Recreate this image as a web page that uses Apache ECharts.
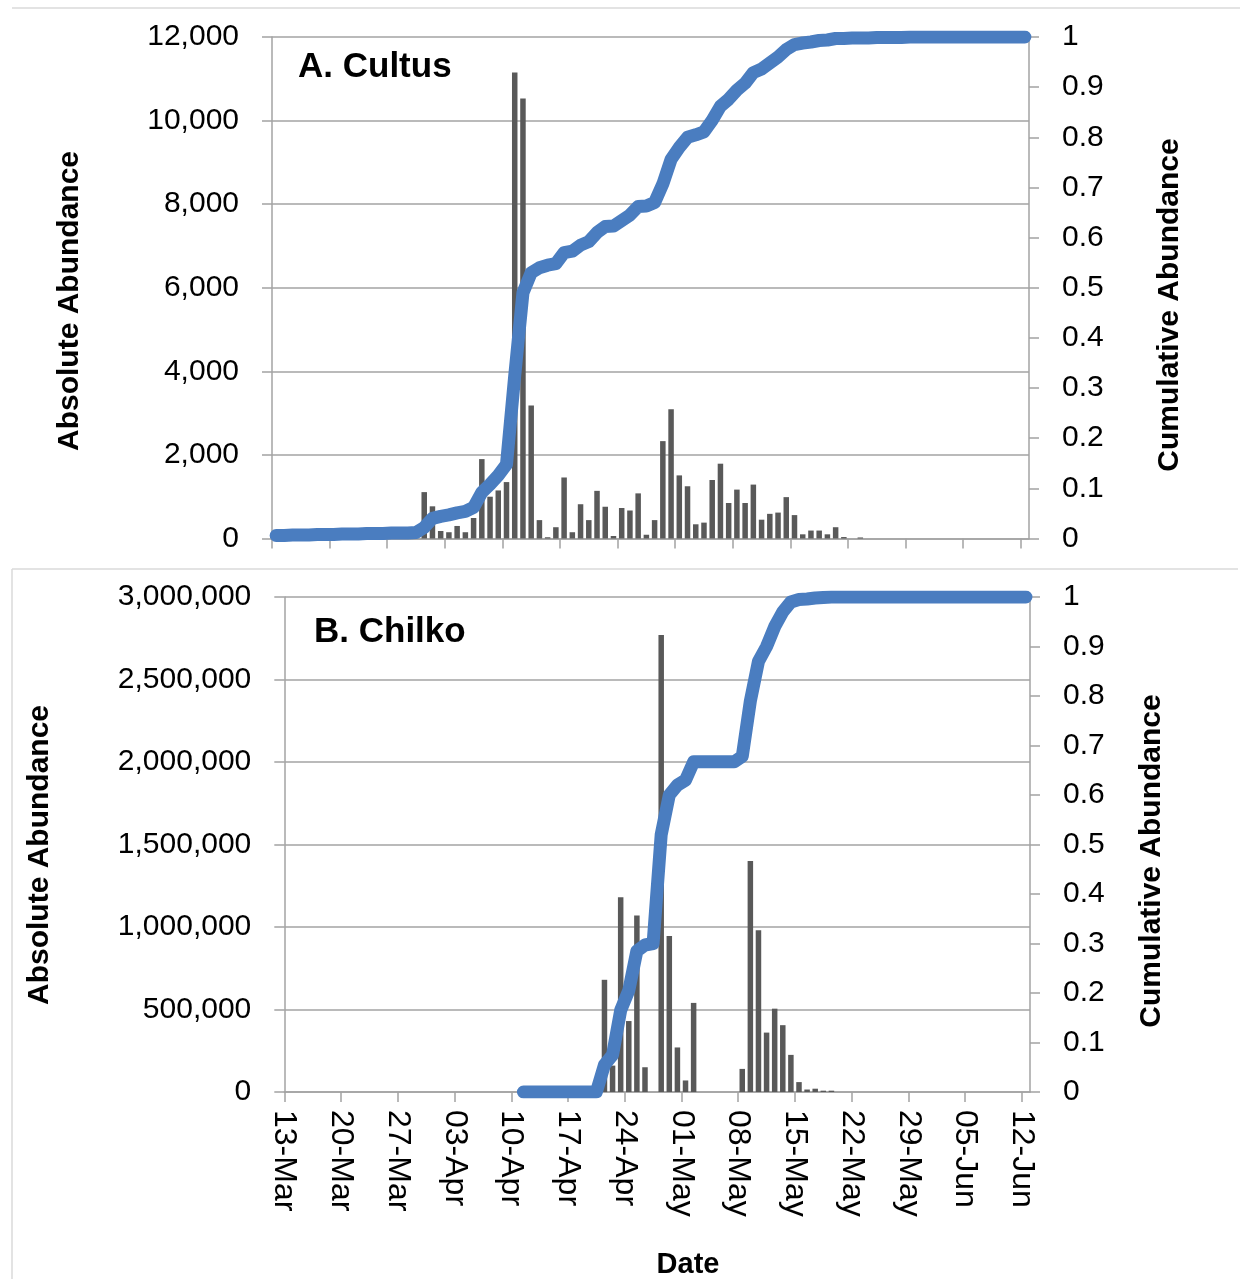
<!DOCTYPE html>
<html><head><meta charset="utf-8">
<script src="https://cdn.jsdelivr.net/npm/echarts@6/dist/echarts.min.js"></script>
<style>html,body{margin:0;padding:0;background:#fff}#c{width:1248px;height:1279px}</style>
</head><body><div id="c"></div>
<script>
// ---- data ----
const tickLabels = ['13-Mar','20-Mar','27-Mar','03-Apr','10-Apr','17-Apr','24-Apr','01-May','08-May','15-May','22-May','29-May','05-Jun','12-Jun'];

// daily categories 13-Mar .. 12-Jun (92 days)
const monthDefs = [['Mar',13,31],['Apr',1,30],['May',1,31],['Jun',1,12]];
const days = [];
monthDefs.forEach(([m,a,b]) => { for (let d=a; d<=b; d++) days.push((d<10?'0':'')+d+'-'+m); });

// A. Cultus – absolute abundance per day (index 0 = 13-Mar)
const cultusCounts = [
  0,0,0,0,0,0,0,0,0,0, 0,0,0,0,0,0,0,0,1110,770,
  180,150,300,150,490,1900,1000,1150,1350,11150, 10530,3180,440,30,270,1460,150,820,440,1140,
  760,60,730,670,1080,90,440,2330,3090,1510, 1250,340,380,1400,1790,850,1170,850,1290,450,
  590,620,990,560,100,190,190,100,270,35, 0,25,0,0,0,0,0,0,0,0,
  0,0,0,0,0,0,0,0,0,0, 0,0
];
// A. Cultus – cumulative abundance
const cultusCum = [
  0.006,0.006,0.007,0.007,0.007,0.008,0.008,0.008,0.009,0.009, 0.009,0.010,0.010,0.010,0.011,0.011,0.011,0.012,0.022,0.040,
  0.044,0.047,0.051,0.054,0.062,0.092,0.108,0.126,0.148,0.325, 0.490,0.530,0.540,0.545,0.548,0.570,0.573,0.585,0.592,0.610,
  0.622,0.623,0.634,0.645,0.662,0.663,0.670,0.707,0.756,0.780, 0.800,0.805,0.811,0.834,0.862,0.876,0.894,0.908,0.929,0.936,
  0.948,0.960,0.975,0.985,0.988,0.990,0.993,0.994,0.997,0.997, 0.998,0.998,0.998,0.999,0.999,0.999,0.999,1,1,1,
  1,1,1,1,1,1,1,1,1,1, 1,1
];
// B. Chilko – absolute abundance per day
const chilkoCounts = [
  0,0,0,0,0,0,0,0,0,0, 0,0,0,0,0,0,0,0,0,0,
  0,0,0,0,0,0,0,0,0,0, 0,0,0,0,0,0,0,0,0,680000,
  160000,1180000,430000,1070000,150000,0,2770000,945000,270000,70000, 540000,0,0,0,0,0,140000,1400000,980000,360000,
  505000,405000,225000,60000,15000,20000,8000,8000,0,0, 0,0,0,0,0,0,0,0,0,0,
  0,0,0,0,0,0,0,0,0,0, 0,0
];
// B. Chilko – cumulative abundance
const chilkoCum = [
  null,null,null,null,null,null,null,null,null,null, null,null,null,null,null,null,null,null,null,null,
  null,null,null,null,null,null,null,null,null,0, 0,0,0,0,0,0,0,0,0,0.055,
  0.075,0.165,0.205,0.285,0.297,0.300,0.520,0.600,0.620,0.630, 0.667,0.667,0.667,0.667,0.667,0.667,0.678,0.790,0.870,0.900,
  0.940,0.970,0.990,0.995,0.996,0.998,0.999,1,1,1, 1,1,1,1,1,1,1,1,1,1,
  1,1,1,1,1,1,1,1,1,1, 1,1
];

// ---- styling ----
const FONT = '"Liberation Sans", Arial, sans-serif';
const GRAY = '#A3A3A3';
const BAR = '#595959';
const BLUE = '#4A7DC0';
const tickVals = tickLabels.map((_, i) => i * 7);

function catAxis(g) {
  return { type: 'category', gridIndex: g, position: 'bottom', data: days, boundaryGap: true, show: false };
}
function dateAxis(g, showLabels) {
  return {
    type: 'value', gridIndex: g, position: 'bottom', min: 0, max: days.length, interval: 7,
    axisLine: { show: true, onZero: false, lineStyle: { color: GRAY, width: 1.5 } },
    axisTick: { show: true, length: 10, customValues: tickVals, lineStyle: { color: GRAY, width: 1.5 } },
    splitLine: { show: false },
    axisLabel: {
      show: showLabels, customValues: tickVals, rotate: -90, margin: 18,
      fontFamily: FONT, fontSize: 32, color: '#000',
      formatter: v => (v % 7 === 0 && v / 7 < tickLabels.length) ? tickLabels[v / 7] : ''
    }
  };
}
function leftAxis(g, max, interval) {
  return {
    type: 'value', gridIndex: g, min: 0, max: max, interval: interval, position: 'left',
    axisLine: { show: true, lineStyle: { color: GRAY, width: 1.5 } },
    axisTick: { show: true, length: 10, lineStyle: { color: GRAY, width: 1.5 } },
    splitLine: { show: true, lineStyle: { color: GRAY, width: 1.5 } },
    axisLabel: { margin: 33, fontFamily: FONT, fontSize: 30, color: '#000',
      formatter: v => v.toLocaleString('en-US') }
  };
}
function rightAxis(g) {
  return {
    type: 'value', gridIndex: g, min: 0, max: 1, interval: 0.1, position: 'right',
    axisLine: { show: true, lineStyle: { color: GRAY, width: 1.5 } },
    axisTick: { show: true, length: 10, lineStyle: { color: GRAY, width: 1.5 } },
    splitLine: { show: false },
    axisLabel: { margin: 33, fontFamily: FONT, fontSize: 30, color: '#000',
      formatter: v => String(Math.round(v * 10) / 10) }
  };
}
function txt(x, y, text, size, rot, align) {
  return { type: 'text', x: x, y: y, rotation: rot || 0, z: 100,
    style: { text: text, font: 'bold ' + size + 'px ' + FONT, fill: '#000',
      align: align || 'center', verticalAlign: 'middle' } };
}
function hline(x1, x2, y) {
  return { type: 'line', shape: { x1: x1, y1: y, x2: x2, y2: y }, style: { stroke: '#DADADA', lineWidth: 1.5 } };
}

const chart = echarts.init(document.getElementById('c'), null, { renderer: 'canvas' });
chart.setOption({
  animation: false,
  backgroundColor: '#fff',
  grid: [
    { left: 272, right: 219, top: 37, bottom: 740.5 },
    { left: 284.3, right: 218, top: 597, bottom: 187 }
  ],
  xAxis: [catAxis(0), dateAxis(0, false), catAxis(1), dateAxis(1, true)],
  yAxis: [leftAxis(0, 12000, 2000), rightAxis(0), leftAxis(1, 3000000, 500000), rightAxis(1)],
  series: [
    { type: 'bar', xAxisIndex: 0, yAxisIndex: 0, data: cultusCounts, barWidth: 5.5,
      itemStyle: { color: BAR } },
    { type: 'line', xAxisIndex: 0, yAxisIndex: 1, data: cultusCum, showSymbol: false, symbol: 'none',
      lineStyle: { color: BLUE, width: 13, cap: 'round', join: 'round' } },
    { type: 'bar', xAxisIndex: 2, yAxisIndex: 2, data: chilkoCounts, barWidth: 5.5,
      itemStyle: { color: BAR } },
    { type: 'line', xAxisIndex: 2, yAxisIndex: 3, data: chilkoCum, showSymbol: false, symbol: 'none',
      connectNulls: false,
      lineStyle: { color: BLUE, width: 13, cap: 'round', join: 'round' } }
  ],
  graphic: [
    hline(12, 1240, 8),
    hline(12, 1238, 569),
    { type: 'line', shape: { x1: 12, y1: 569, x2: 12, y2: 1279 }, style: { stroke: '#DADADA', lineWidth: 1.5 } },
    txt(298, 67, 'A. Cultus', 35, 0, 'left'),
    txt(314, 632, 'B. Chilko', 35, 0, 'left'),
    txt(70, 301, 'Absolute Abundance', 30, Math.PI / 2),
    txt(1170, 305, 'Cumulative Abundance', 30, Math.PI / 2),
    txt(40, 855, 'Absolute Abundance', 30, Math.PI / 2),
    txt(1152, 861, 'Cumulative Abundance', 30, Math.PI / 2),
    txt(688, 1265, 'Date', 29, 0)
  ]
});
</script>
</body></html>
